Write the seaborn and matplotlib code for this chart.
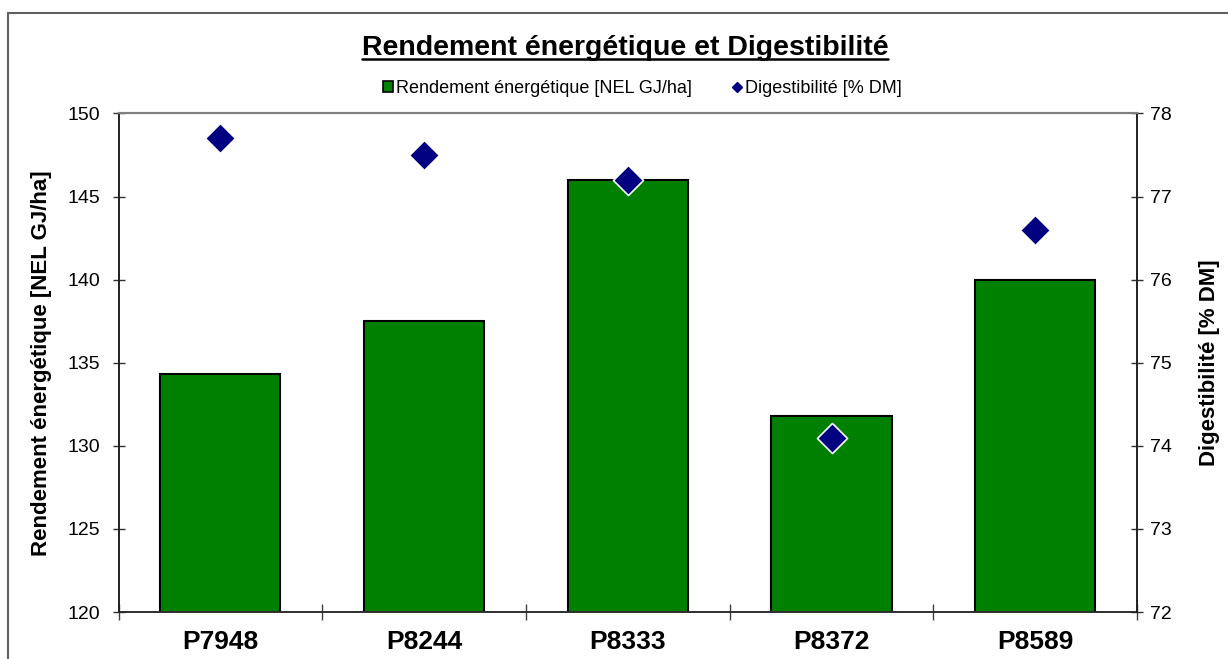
import matplotlib
matplotlib.use('Agg')
from matplotlib import pyplot as plt
from matplotlib.lines import Line2D
from matplotlib.patches import Patch
import seaborn as sns
import pandas as pd

categories = ['P7948', 'P8244', 'P8333', 'P8372', 'P8589']
rendement = [134.3, 137.5, 146.0, 131.8, 140.0]
digestibilite = [77.7, 77.5, 77.2, 74.1, 76.6]
left_ticks = [120, 125, 130, 135, 140, 145, 150]
right_ticks = [72, 73, 74, 75, 76, 77, 78]

df = pd.DataFrame({'variete': categories, 'rendement': rendement,
                   'digestibilite': digestibilite})

sns.set_style('white')
plt.rcParams['font.family'] = ['Liberation Sans', 'DejaVu Sans']
plt.rcParams['text.color'] = 'black'
plt.rcParams['axes.labelcolor'] = 'black'
plt.rcParams['xtick.color'] = 'black'
plt.rcParams['ytick.color'] = 'black'

fig = plt.figure(figsize=(12.28, 6.59), dpi=100)
ax = fig.add_axes([0.0965, 0.0713, 0.8295, 0.7565])

sns.barplot(data=df, x='variete', y='rendement', color='#008000',
            saturation=1, width=0.59, edgecolor='black', linewidth=1.5, ax=ax)
ax.set_ylim(120, 150)
ax.set_xlim(-0.5, 4.5)
ax.set_yticks(left_ticks)
ax.set_xlabel('')
ax.set_ylabel('Rendement énergétique [NEL GJ/ha]', fontsize=16, fontweight='bold', labelpad=11)
ax.tick_params(axis='y', direction='inout', length=8, width=1, color='#303030',
               labelsize=14, pad=9, left=True)
ax.tick_params(axis='x', which='major', length=0, labelsize=19, pad=13)
for lbl in ax.get_xticklabels():
    lbl.set_fontweight('bold')
ax.set_xticks([-0.5, 0.5, 1.5, 2.5, 3.5, 4.5], minor=True)
ax.tick_params(axis='x', which='minor', direction='inout', length=12, width=1,
               color='#404040', bottom=True)

ax2 = ax.twinx()
sns.scatterplot(data=df, x='variete', y='digestibilite', marker='D', s=235,
                color='#000080', edgecolor='white', linewidth=1.2, ax=ax2,
                zorder=5)
ax2.set_ylim(72, 78)
ax2.set_yticks(right_ticks)
ax2.set_ylabel('Digestibilité [% DM]', fontsize=16, fontweight='bold', labelpad=20)
ax2.tick_params(axis='y', direction='inout', length=8, width=1, color='#303030',
                labelsize=14, pad=5, right=True)

for a in (ax, ax2):
    for side in ('left', 'right', 'bottom'):
        a.spines[side].set_visible(True)
        a.spines[side].set_color('#202020')
        a.spines[side].set_linewidth(1.2)
    a.spines['top'].set_color('#808080')
    a.spines['top'].set_linewidth(1.5)
ax.spines['bottom'].set_color('#808080')

fig.text(0.509, 0.917, 'Rendement énergétique et Digestibilité', ha='center',
         va='baseline', fontsize=20.5, fontweight='bold')
# underline for the title
fig.add_artist(Line2D([0.2948, 0.7231], [0.911, 0.911], color='black', lw=1.8))

handles = [Patch(facecolor='#008000', edgecolor='black', linewidth=1.2),
           Line2D([], [], marker='D', linestyle='', color='#000080', markersize=5)]
fig.legend(handles, ['Rendement énergétique [NEL GJ/ha]', 'Digestibilité [% DM]'],
           loc='center', bbox_to_anchor=(0.523, 0.866), ncol=2, frameon=False,
           fontsize=13, handlelength=0.6, handleheight=0.6, handletextpad=0.15,
           columnspacing=2.2)

# outer chart frame
fig.add_artist(Line2D([0.0065, 0.0065], [0.0, 0.981], color='#606060', lw=1.5))
fig.add_artist(Line2D([0.0065, 1.0], [0.981, 0.981], color='#606060', lw=1.5))

fig.savefig('out.png', dpi=100)
